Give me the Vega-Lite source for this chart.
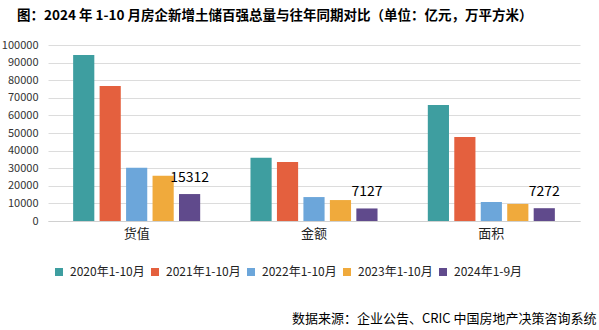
{
  "$schema": "https://vega.github.io/schema/vega-lite/v6.json",
  "width": 532,
  "height": 176,
  "autosize": {"type": "none"},
  "padding": {"left": 48, "top": 45, "right": 19, "bottom": 109},
  "background": "white",
  "title": {
    "text": "图：2024 年 1-10 月房企新增土储百强总量与往年同期对比（单位：亿元，万平方米）",
    "anchor": "start",
    "frame": "group",
    "dx": -31,
    "offset": 17,
    "font": "Noto Sans CJK SC",
    "fontSize": 13.5,
    "fontWeight": "bold",
    "color": "#000000"
  },
  "config": {
    "view": {"stroke": null},
    "font": "Noto Sans CJK SC"
  },
  "data": {
    "values": [
      {"cat": "货值", "year": "2020年1-10月", "value": 94300},
      {"cat": "货值", "year": "2021年1-10月", "value": 76700},
      {"cat": "货值", "year": "2022年1-10月", "value": 30300},
      {"cat": "货值", "year": "2023年1-10月", "value": 25700},
      {"cat": "货值", "year": "2024年1-9月", "value": 15312},
      {"cat": "金额", "year": "2020年1-10月", "value": 36000},
      {"cat": "金额", "year": "2021年1-10月", "value": 33500},
      {"cat": "金额", "year": "2022年1-10月", "value": 13600},
      {"cat": "金额", "year": "2023年1-10月", "value": 11900},
      {"cat": "金额", "year": "2024年1-9月", "value": 7127},
      {"cat": "面积", "year": "2020年1-10月", "value": 65900},
      {"cat": "面积", "year": "2021年1-10月", "value": 47700},
      {"cat": "面积", "year": "2022年1-10月", "value": 10800},
      {"cat": "面积", "year": "2023年1-10月", "value": 9700},
      {"cat": "面积", "year": "2024年1-9月", "value": 7272}
    ]
  },
  "encoding": {
    "x": {
      "field": "cat",
      "type": "nominal",
      "sort": ["货值", "金额", "面积"],
      "scale": {"paddingInner": 0, "paddingOuter": 0},
      "axis": {
        "title": "数据来源：企业公告、CRIC 中国房地产决策咨询系统",
        "titleFont": "Noto Sans CJK SC",
        "titleFontSize": 13,
        "titleFontWeight": "normal",
        "titleColor": "#000000",
        "titleAnchor": null,
        "titleAlign": "right",
        "titleBaseline": "middle",
        "titleX": 548,
        "titleY": 97,
        "labelAngle": 0,
        "labelFontSize": 13,
        "labelColor": "#222222",
        "labelPadding": 6,
        "ticks": false,
        "domainColor": "#d0d0d0",
        "grid": false
      }
    },
    "xOffset": {
      "field": "year",
      "type": "nominal",
      "scale": {"paddingInner": 0.2, "paddingOuter": 0.95}
    },
    "y": {
      "field": "value",
      "type": "quantitative",
      "scale": {"domain": [0, 100000]},
      "axis": {
        "title": null,
        "values": [0, 10000, 20000, 30000, 40000, 50000, 60000, 70000, 80000, 90000, 100000],
        "domain": false,
        "ticks": false,
        "labelFontSize": 11,
        "labelColor": "#333333",
        "labelPadding": 10,
        "gridColor": "#dcdcdc",
        "format": "d"
      }
    }
  },
  "layer": [
    {
      "mark": {"type": "bar"},
      "encoding": {
        "color": {
          "field": "year",
          "type": "nominal",
          "scale": {
            "domain": ["2020年1-10月", "2021年1-10月", "2022年1-10月", "2023年1-10月", "2024年1-9月"],
            "range": ["#3E9EA0", "#E4603E", "#6CA6DA", "#F0AA3C", "#604A8C"]
          },
          "legend": {
            "title": null,
            "orient": "none",
            "direction": "horizontal",
            "legendX": 5,
            "legendY": 221,
            "symbolType": "square",
            "symbolSize": 64,
            "symbolStrokeWidth": 0,
            "labelFontSize": 12,
            "labelColor": "#222222",
            "labelOffset": 5,
            "columnPadding": 4
          }
        }
      }
    },
    {
      "transform": [{"filter": "datum.year == '2024年1-9月'"}],
      "mark": {"type": "text", "baseline": "bottom", "dy": -9, "fontSize": 14, "color": "#000000"},
      "encoding": {
        "text": {"field": "value", "type": "quantitative", "format": "d"}
      }
    }
  ]
}
